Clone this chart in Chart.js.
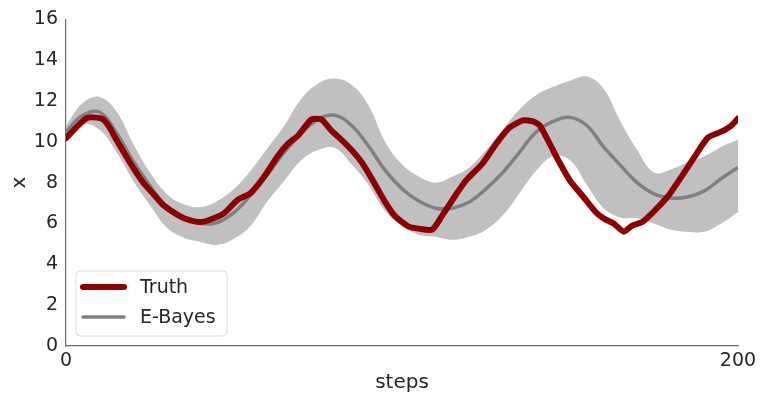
<!DOCTYPE html>
<html>
<head>
<meta charset="utf-8">
<script src="https://cdn.jsdelivr.net/npm/chart.js@4.4.1/dist/chart.umd.min.js"></script>
<style>
  html, body { margin: 0; padding: 0; background: #fff; }
  #wrap { position: relative; width: 761px; height: 397px; }
</style>
</head>
<body>
<div id="wrap"><canvas id="chart" width="761" height="397"></canvas></div>
<script>
// smoothed estimate and its band, every 5 steps
const steps = [0, 5, 10, 15, 20, 25, 30, 35, 40, 45, 50, 55, 60, 65, 70, 75, 80, 85, 90, 95,
  100, 105, 110, 115, 120, 125, 130, 135, 140, 145, 150, 155, 160, 165, 170, 175, 180, 185, 190, 195, 200];

const eBayes = [10.5, 11.3, 11.45, 10.45, 9.05, 7.85, 6.8, 6.25, 6.0, 6.05, 6.55, 7.4, 8.4, 9.5, 10.4, 11.1, 11.3, 10.8, 9.8, 8.6,
  7.7, 7.1, 6.75, 6.75, 7.05, 7.7, 8.5, 9.5, 10.5, 11.0, 11.2, 10.8, 9.75, 8.85, 8.0, 7.45, 7.25, 7.3, 7.6, 8.2, 8.75];

const bandUpper = [10.8, 11.9, 12.2, 11.5, 9.9, 8.5, 7.45, 6.95, 6.8, 7.1, 7.7, 8.6, 9.7, 10.8, 12.1, 12.85, 13.1, 12.8, 11.8, 10.0,
  8.9, 8.3, 8.0, 8.3, 8.75, 9.6, 10.6, 11.6, 12.3, 12.7, 13.0, 13.2, 12.6, 11.0, 9.6, 8.5, 8.65, 9.0, 9.3, 9.75, 10.1];

const bandLower = [10.1, 10.85, 10.6, 9.5, 8.1, 6.9, 5.8, 5.3, 5.1, 4.95, 5.25, 5.9, 7.1, 8.1, 9.1, 9.6, 9.7, 8.9, 7.9, 6.6,
  5.9, 5.45, 5.35, 5.2, 5.35, 5.7, 6.4, 7.5, 8.6, 9.3, 9.1, 7.9, 6.75, 6.3, 6.25, 6.0, 5.7, 5.6, 5.6, 6.0, 6.55];

// true trajectory, sampled more densely
const truthSteps = [0, 3, 6, 8, 11, 13, 15, 19, 23, 26, 29, 34, 37, 40, 43, 47, 51, 55, 59, 63,
  66, 69, 73, 76, 79, 82, 85, 88, 91, 95, 98, 102, 105, 109, 112, 116, 119, 124, 128, 132,
  136, 139, 141, 144, 147, 150, 154, 158, 160, 163, 166, 168.5, 171.5, 175, 179, 183, 187, 191, 195, 198, 200];

const truth = [10.18, 10.7, 11.15, 11.2, 11.1, 10.7, 10.1, 9.0, 8.0, 7.45, 6.9, 6.35, 6.15, 6.07, 6.2, 6.5, 7.15, 7.5, 8.3, 9.3,
  9.9, 10.3, 11.1, 11.1, 10.55, 10.1, 9.6, 9.0, 8.2, 7.05, 6.35, 5.85, 5.75, 5.7, 6.4, 7.4, 8.1, 8.95, 9.9, 10.7,
  11.05, 11.0, 10.8, 9.9, 8.95, 8.1, 7.3, 6.5, 6.25, 6.0, 5.6, 5.9, 6.07, 6.6, 7.3, 8.25, 9.25, 10.2, 10.5, 10.8, 11.15];

const xTicks = [0, 200];
const yTicks = [0, 2, 4, 6, 8, 10, 12, 14, 16];
const legendOrder = ['Truth', 'E-Bayes'];

const toPoints = (xs, ys) => xs.map((s, i) => ({ x: s, y: ys[i] }));

const textColor = '#262626';
const spineColor = '#6e6e6e';
const fontFamily = "'DejaVu Sans', sans-serif";

// legend drawn inside the plot, bottom left, with a rounded frame
const legendBox = {
  id: 'legendBox',
  afterDatasetsDraw(chart, args, opts) {
    const { ctx } = chart;
    const items = legendOrder.map((name) => chart.data.datasets.find((d) => d.label === name));
    ctx.save();
    ctx.beginPath();
    ctx.roundRect(opts.x, opts.y, opts.width, opts.height, 4);
    ctx.fillStyle = 'rgba(255,255,255,0.85)';
    ctx.fill();
    ctx.strokeStyle = '#dcdcdc';
    ctx.lineWidth = 1;
    ctx.stroke();
    ctx.font = `19px ${fontFamily}`;
    ctx.textBaseline = 'middle';
    items.forEach((d, i) => {
      const cy = opts.y + 16 + i * 30;
      ctx.beginPath();
      ctx.moveTo(opts.x + 7, cy);
      ctx.lineTo(opts.x + 48, cy);
      ctx.strokeStyle = d.borderColor;
      ctx.lineWidth = d.borderWidth;
      ctx.lineCap = 'round';
      ctx.stroke();
      ctx.fillStyle = textColor;
      ctx.fillText(d.label, opts.x + 64, cy + 1);
    });
    ctx.restore();
  },
};

const chart = new Chart(document.getElementById('chart'), {
  type: 'line',
  data: {
    datasets: [
      {
        label: 'Truth',
        data: toPoints(truthSteps, truth),
        borderColor: '#8b0000',
        borderWidth: 6,
        pointRadius: 0,
        fill: false,
        tension: 0.2,
        borderCapStyle: 'round',
        borderJoinStyle: 'round',
        order: 0,
      },
      {
        label: 'E-Bayes',
        data: toPoints(steps, eBayes),
        borderColor: '#808080',
        borderWidth: 3.5,
        pointRadius: 0,
        fill: false,
        tension: 0.4,
        order: 1,
      },
      {
        data: toPoints(steps, bandUpper),
        borderWidth: 0,
        pointRadius: 0,
        backgroundColor: 'rgb(192,192,192)',
        fill: '+1',
        tension: 0.4,
        order: 2,
      },
      {
        data: toPoints(steps, bandLower),
        borderWidth: 0,
        pointRadius: 0,
        fill: false,
        tension: 0.4,
        order: 3,
      },
    ],
  },
  options: {
    responsive: false,
    animation: false,
    layout: { padding: { top: 19, right: 23, left: 0, bottom: 0 } },
    plugins: {
      legend: { display: false },
      tooltip: { enabled: false },
      legendBox: { x: 76, y: 271, width: 151, height: 65 },
    },
    scales: {
      x: {
        type: 'linear',
        min: 0,
        max: 200,
        afterBuildTicks: (scale) => {
          scale.ticks = xTicks.map((v) => ({ value: v }));
        },
        afterFit: (scale) => {
          scale.height = 51;
        },
        grid: { display: false, drawTicks: false },
        border: { color: spineColor, width: 1.2 },
        ticks: {
          color: textColor,
          padding: 4,
          maxRotation: 0,
          font: { family: fontFamily, size: 19 },
        },
        title: {
          display: true,
          text: 'steps',
          color: textColor,
          padding: { top: 0, bottom: 2 },
          font: { family: fontFamily, size: 20 },
        },
      },
      y: {
        min: 0,
        max: 16,
        afterBuildTicks: (scale) => {
          scale.ticks = yTicks.map((v) => ({ value: v }));
        },
        afterFit: (scale) => {
          scale.width = 66;
        },
        grid: { display: false, drawTicks: false },
        border: { color: spineColor, width: 1.2 },
        ticks: {
          color: textColor,
          padding: 8,
          font: { family: fontFamily, size: 19 },
        },
        title: {
          display: true,
          text: 'x',
          color: textColor,
          padding: { top: 8, bottom: 0 },
          font: { family: fontFamily, size: 20 },
        },
      },
    },
  },
  plugins: [legendBox],
});
</script>
</body>
</html>
